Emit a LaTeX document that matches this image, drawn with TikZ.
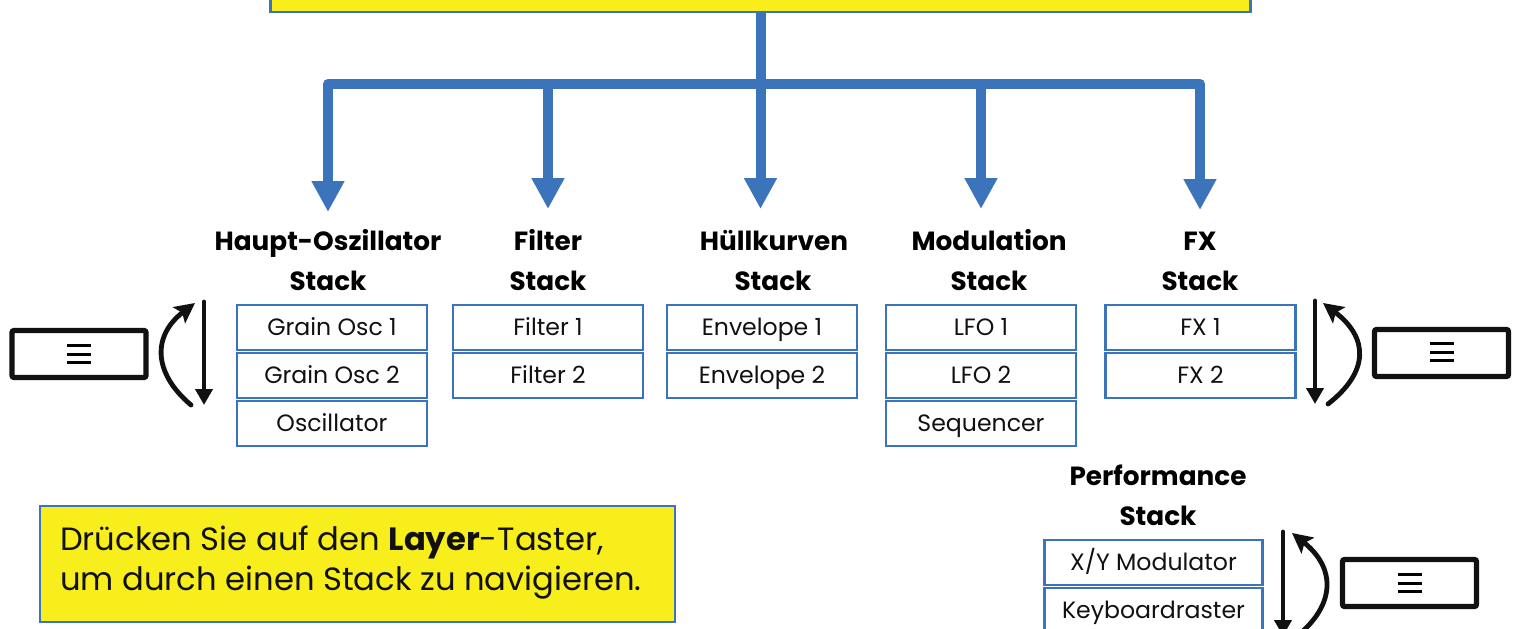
\documentclass[tikz,border=0pt]{standalone}
\usepackage{fontspec}
\setmainfont{Poppins}
\usetikzlibrary{arrows.meta}
\definecolor{bluel}{HTML}{3C74BB}
\definecolor{yel}{HTML}{F7EE1B}
\definecolor{ink}{HTML}{111111}
\tikzset{
  x=1pt,y=-1pt,
  busline/.style={draw=bluel,line width=10pt,line join=round},
  busarrow/.style={busline,-{Triangle[length=31pt,width=31pt]}},
  itembox/.style={draw=bluel,line width=2.4pt,fill=white,minimum width=190pt,minimum height=45pt,inner sep=0pt,outer sep=0pt,text height=17pt,text depth=2pt,align=center,font=\fontsize{23.6}{24}\selectfont,text=ink},
  heading/.style={anchor=base,font=\fontsize{26.3}{28}\selectfont\bfseries,text=black,inner sep=0pt},
  notebox/.style={draw=bluel,line width=2.5pt,fill=yel,inner sep=0pt,outer sep=0pt},
  menubtn/.style={draw=ink,line width=5.2pt,rounded corners=2pt,fill=white,minimum width=134pt,minimum height=47pt,inner sep=0pt,outer sep=0pt},
  burgerbar/.style={draw=black,line width=3pt},
  turn/.style={draw=ink,line width=4.8pt,line cap=round},
  turnstraight/.style={turn,-{Triangle[length=16pt,width=17pt]}},
  turncurve/.style={turn,-{Stealth[length=20pt,width=20pt,inset=4pt]}},
}
\newcommand{\burgermark}[2]{%
  \draw[burgerbar] (#1-12,#2-8.5) -- (#1+12,#2-8.5);
  \draw[burgerbar] (#1-12,#2) -- (#1+12,#2);
  \draw[burgerbar] (#1-12,#2+8.5) -- (#1+12,#2+8.5);}
\begin{document}
\begin{tikzpicture}
\useasboundingbox (0,0) rectangle (1519,629);
\clip (0,0) rectangle (1519,629);
\fill[white] (0,0) rectangle (1519,629);
% top box
\node[notebox,minimum width=980pt,minimum height=50pt] (top) at (760.5,-13) {};
% bus coordinates
\coordinate (jc) at (760.5,84);
\coordinate (busL) at (328,84);
\coordinate (busR) at (1200,84);
\coordinate (j2) at (548,84);
\coordinate (j4) at (981,84);
\coordinate (t1) at (328,212);
\coordinate (t2) at (548,209);
\coordinate (t3) at (760.5,209);
\coordinate (t4) at (981,209);
\coordinate (t5) at (1200,210);
\draw[busline] (top.south) -- (jc);
\draw[busarrow] (busR) -- (busL) -- (t1);
\draw[busarrow] (busL) -- (busR) -- (t5);
\draw[busarrow] (j2) -- (t2);
\draw[busarrow] (jc) -- (t3);
\draw[busarrow] (j4) -- (t4);
% headings
\node[heading] (h1a) at (328,250) {Haupt-Oszillator};
\node[heading] (h1b) at (328,290) {Stack};
\node[heading] (h2a) at (548,250) {Filter};
\node[heading] (h2b) at (548,290) {Stack};
\node[heading] (h3a) at (774,250) {Hüllkurven};
\node[heading] (h3b) at (773,290) {Stack};
\node[heading] (h4a) at (989,250) {Modulation};
\node[heading] (h4b) at (989,290) {Stack};
\node[heading] (h5a) at (1200,250) {FX};
\node[heading] (h5b) at (1200,290) {Stack};
\node[heading] (h6a) at (1158,485) {Performance};
\node[heading] (h6b) at (1158,525) {Stack};
% stacks
\node[itembox] (a1) at (332,327.5) {Grain Osc 1};
\node[itembox] (a2) at (332,375.5) {Grain Osc 2};
\node[itembox] (a3) at (332,423.5) {Oscillator};
\node[itembox] (b1) at (548,327.5) {Filter 1};
\node[itembox] (b2) at (548,375.5) {Filter 2};
\node[itembox] (c1) at (762,327.5) {Envelope 1};
\node[itembox] (c2) at (762,375.5) {Envelope 2};
\node[itembox] (d1) at (981,327.5) {LFO 1};
\node[itembox] (d2) at (981,375.5) {LFO 2};
\node[itembox] (d3) at (981,423.5) {Sequencer};
\node[itembox] (e1) at (1200.5,327.5) {FX 1};
\node[itembox] (e2) at (1200.5,375.5) {FX 2};
\node[itembox,minimum width=218pt] (f1) at (1153.5,562.5) {X/Y Modulator};
\node[itembox,minimum width=218pt] (f2) at (1153.5,610.5) {Keyboardraster};
% left menu
\node[menubtn] (m1) at (79,354) {};
\burgermark{79}{354}
\coordinate (ls1) at (204,302);
\coordinate (ls2) at (204,405);
\coordinate (lc1) at (191,405);
\coordinate (lc2) at (195,303);
\draw[turnstraight] (ls1) -- (ls2);
\draw[turncurve] (lc1) .. controls (152,372) and (153,335) .. (lc2);
% right menu
\node[menubtn] (m2) at (1441.5,353) {};
\burgermark{1441.5}{352}
\coordinate (rs1) at (1315,301);
\coordinate (rs2) at (1315,404);
\coordinate (rc1) at (1328,404);
\coordinate (rc2) at (1323,303);
\draw[turnstraight] (rs1) -- (rs2);
\draw[turncurve] (rc1) .. controls (1369,372) and (1369,338) .. (rc2);
% performance menu
\node[menubtn] (m3) at (1409.5,583) {};
\burgermark{1410}{583}
\coordinate (ps1) at (1283,532);
\coordinate (ps2) at (1283,636);
\coordinate (pc1) at (1296,637);
\coordinate (pc2) at (1292,533);
\draw[turnstraight] (ps1) -- (ps2);
\draw[turncurve] (pc1) .. controls (1336,605) and (1336,568) .. (pc2);
% note
\node[notebox,minimum width=635pt,minimum height=116pt] (note) at (357.5,564) {};
\node[anchor=base west,inner sep=0pt,font=\fontsize{32.2}{40}\selectfont,text=ink] (n1) at (60,550) {Drücken Sie auf den \textbf{Layer}-Taster,};
\node[anchor=base west,inner sep=0pt,font=\fontsize{32.2}{40}\selectfont,text=ink] (n2) at (60,590) {um durch einen Stack zu navigieren.};
\end{tikzpicture}
\end{document}
